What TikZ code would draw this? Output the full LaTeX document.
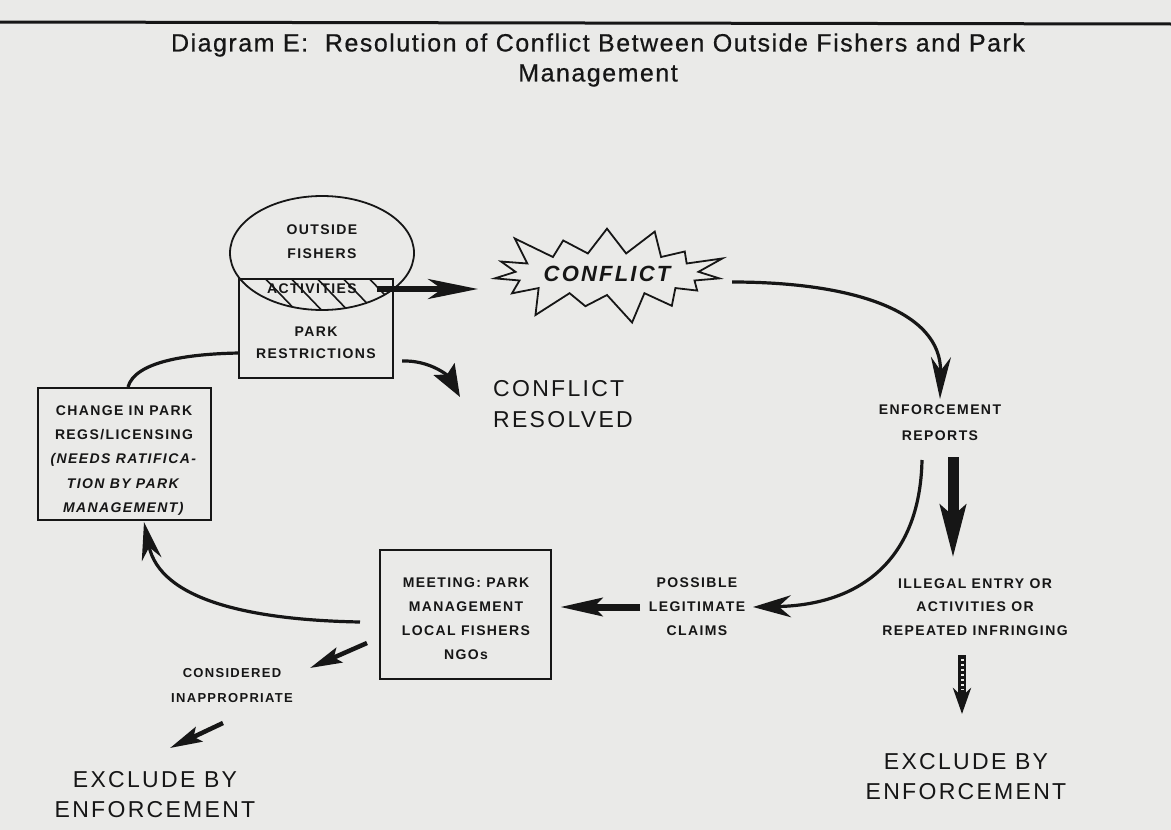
\documentclass[tikz,border=0pt]{standalone}
\usepackage{fontspec}
\setmainfont{Liberation Sans}
\newfontfamily\lblfont[LetterSpace=10]{Liberation Sans}
\newfontfamily\ttlfont[LetterSpace=6,FakeBold=0.6]{Liberation Sans}
\usetikzlibrary{shapes.symbols,shapes.geometric,arrows.meta}
\definecolor{paper}{RGB}{234,234,232}
\definecolor{ink}{RGB}{22,22,22}
\begin{document}
\begin{tikzpicture}[x=1pt,y=-1pt,
  small/.style={font=\lblfont\bfseries\fontsize{14}{24}\selectfont, align=center, inner sep=0pt, text=ink},
  big/.style={font=\lblfont\fontsize{23}{31}\selectfont, inner sep=0pt, text=ink},
  box/.style={draw=ink, line width=1.8pt, inner sep=0pt},
  curve/.style={draw=ink, line width=3.2pt},
]
\fill[paper] (0,0) rectangle (1171,830);
\useasboundingbox (0,0) rectangle (1171,830);
\draw[ink, line width=3pt] (0,22) -- (1171,24);

% title
\node[font=\ttlfont\fontsize{25}{30}\selectfont, align=center, text=ink, inner sep=0pt] (title) at (598,60)
  {Diagram E:\ \ Resolution of Conflict Between Outside Fishers and Park\\Management};

% outside fishers / park restrictions
\node[ellipse, draw=ink, line width=1.8pt, minimum width=184pt, minimum height=114pt, inner sep=0pt] (fish) at (322,253) {};
\node[box, minimum width=154pt, minimum height=99pt] (restr) at (316,328.5) {};
\begin{scope}
  \clip (322,253) ellipse [x radius=92, y radius=57];
  \clip (239,279) rectangle (393,330);
  \foreach \k in {0,...,7} \draw[ink, line width=1.6pt] (205+26*\k,270) -- ++(48,50);
\end{scope}
\node[small] (fishtxt) at (322,242) {OUTSIDE\\FISHERS};
\node[small] (act) at (312,289) {ACTIVITIES};
\node[small, font=\lblfont\bfseries\fontsize{14}{22}\selectfont] (restrtxt) at (316,343) {PARK\\RESTRICTIONS};

% conflict
\node[starburst, draw=ink, line width=1.8pt, starburst points=15, starburst point height=34pt,
  minimum width=252pt, minimum height=110pt, inner sep=0pt, text=ink,
  font=\lblfont\bfseries\itshape\fontsize{22}{26}\selectfont] (conf) at (607,274) {CONFLICT};

\coordinate (a1) at (377,289);
\coordinate (a2) at (478,289);
\draw[ink, line width=5.5pt, -{Stealth[length=50pt,width=20pt,inset=14pt]}] (a1) -- (a2);

% enforcement reports
\node[small, font=\lblfont\bfseries\fontsize{14}{26}\selectfont] (enf) at (940,423) {ENFORCEMENT\\REPORTS};
\coordinate (c1) at (732,282);
\coordinate (c2) at (940,399);
\draw[curve, -{Stealth[length=42pt,width=20pt]}] (c1) .. controls (850,282) and (942,310) .. (c2);

% illegal entry
\node[small, font=\lblfont\bfseries\fontsize{14}{23.5}\selectfont] (ill) at (975,607) {ILLEGAL ENTRY OR\\ACTIVITIES OR\\REPEATED INFRINGING};
\coordinate (d1) at (953,457);
\coordinate (d2) at (953,558);
\draw[ink, line width=11pt, -{Stealth[length=52pt,width=25pt,inset=10pt]}] (d1) -- (d2);

% possible legitimate claims
\node[small] (poss) at (697,607) {POSSIBLE\\LEGITIMATE\\CLAIMS};
\coordinate (e1) at (922,460);
\coordinate (e2) at (753,607);
\draw[curve, -{Stealth[length=38pt,width=22pt]}] (e1) .. controls (920,560) and (860,605) .. (e2);
\coordinate (f1) at (640,607);
\coordinate (f2) at (560,607);
\draw[ink, line width=7pt, -{Stealth[length=42pt,width=18pt,inset=8pt]}] (f1) -- (f2);

% meeting
\node[box, minimum width=171pt, minimum height=129pt] (meet) at (465.5,614.5) {};
\node[small] (meettxt) at (466,619) {MEETING: PARK\\MANAGEMENT\\LOCAL FISHERS\\NGOs};

% change box
\node[box, minimum width=173pt, minimum height=132pt] (chg) at (124.5,454) {};
\node[small, font=\lblfont\bfseries\fontsize{14}{24.25}\selectfont] (chgtxt) at (124,460.5)
  {CHANGE IN PARK\\REGS/LICENSING\\\textit{(NEEDS RATIFICA-}\\\textit{TION BY PARK}\\\textit{MANAGEMENT)}};

\coordinate (g1) at (360,622);
\coordinate (g2) at (144,522);
\draw[curve, -{Stealth[length=38pt,width=20pt]}] (g1) .. controls (250,620) and (160,600) .. (g2);
\coordinate (h1) at (128,387);
\coordinate (h2) at (239,353);
\draw[curve] (h1) .. controls (135,362) and (185,354) .. (h2);

% conflict resolved
\node[big, align=left, anchor=west] (res) at (493,404) {CONFLICT\\RESOLVED};
\coordinate (r1) at (402,361);
\coordinate (r2) at (460,397);
\draw[ink, line width=3.2pt, -{Stealth[length=32pt,width=24pt,inset=6pt]}] (r1) .. controls (430,360) and (448,376) .. (r2);

% considered inappropriate
\node[small, font=\lblfont\bfseries\fontsize{13}{25}\selectfont] (cons) at (232,686) {CONSIDERED\\INAPPROPRIATE};
\coordinate (k1) at (367,643);
\coordinate (k2) at (310,668);
\draw[ink, line width=4.5pt, -{Stealth[length=32pt,width=16pt,inset=6pt]}] (k1) -- (k2);
\coordinate (m1) at (223,723);
\coordinate (m2) at (170,748);
\draw[ink, line width=4.5pt, -{Stealth[length=32pt,width=16pt,inset=6pt]}] (m1) -- (m2);

% exclude by enforcement
\node[big, align=center, font=\lblfont\fontsize{23}{30}\selectfont] (exl) at (155,795) {EXCLUDE BY\\ENFORCEMENT};
\node[big, align=center, font=\lblfont\fontsize{23}{30}\selectfont] (exr) at (966,777) {EXCLUDE BY\\ENFORCEMENT};
\coordinate (n1) at (962,655);
\coordinate (n2) at (962,714);
\draw[ink, line width=8pt, -{Stealth[length=26pt,width=18pt]}] (n1) -- (n2);
\draw[paper, line width=3pt, dash pattern=on 2pt off 3pt] (962,659) -- (962,690);
\end{tikzpicture}
\end{document}
